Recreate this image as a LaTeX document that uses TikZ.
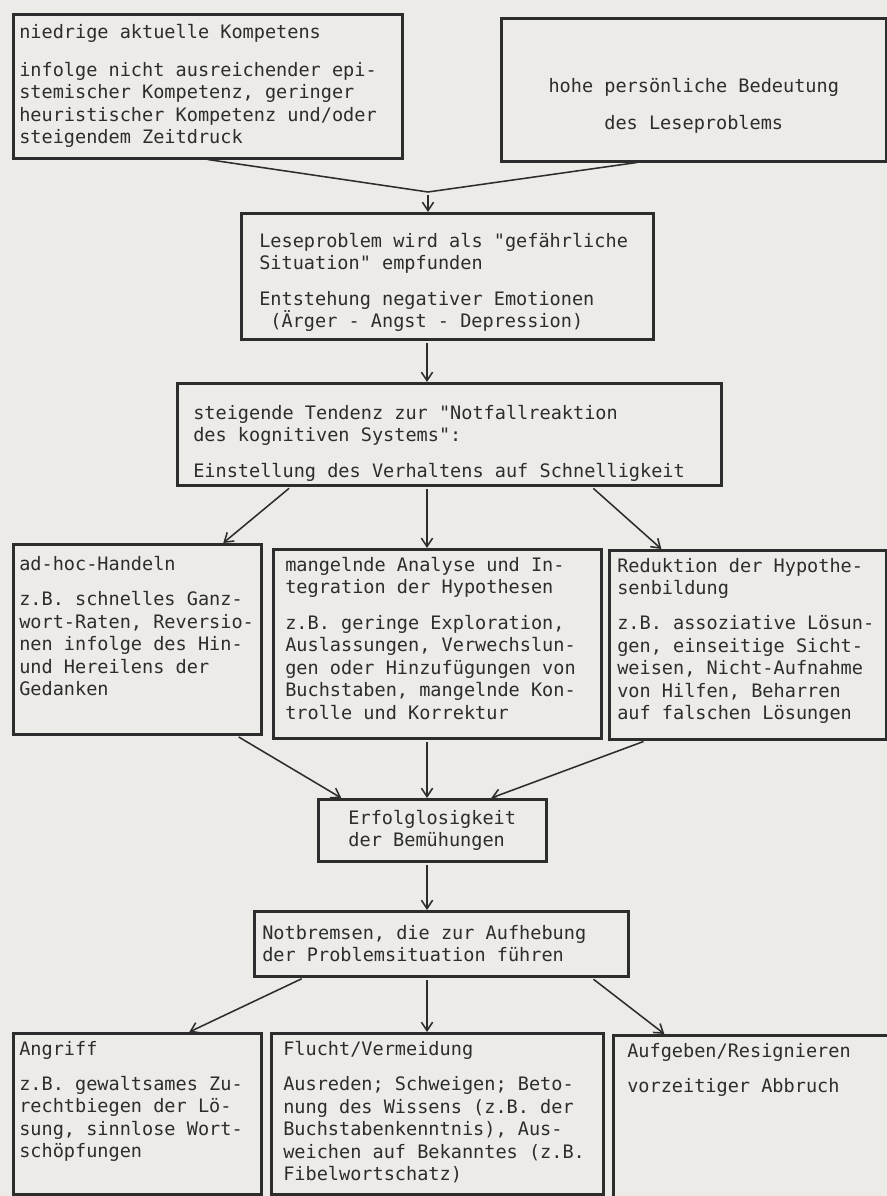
\documentclass[tikz,border=0pt]{standalone}
\usepackage{fontspec}
\setmonofont{DejaVu Sans Mono}
\usepackage{xcolor}
\usetikzlibrary{arrows.meta}
\definecolor{papier}{RGB}{236,235,231}
\definecolor{tinte}{RGB}{45,45,45}
\newcommand{\schrift}{\ttfamily\fontsize{13.2}{16}\selectfont}
\newcommand{\feld}[3]{\parbox[t][#2][t]{#1}{\raggedright #3}}

\begin{document}
\begin{tikzpicture}[
  kasten/.style={draw=tinte, line width=1.8pt, anchor=north west, inner xsep=0.15cm, inner ysep=0.2cm, font=\schrift, text=tinte},
  pfeil/.style={->, >={Straight Barb[length=6pt,width=8pt]}, line width=1.1pt, color=tinte, shorten <=2pt},
  strich/.style={line width=1.1pt, color=tinte}]
\fill[papier] (0,0) rectangle (22.175,29.9);
\useasboundingbox (0,0) rectangle (22.175,29.9);

\node[kasten] (KOMP) at (0.3,29.575) {\feld{9.425cm}{3.2cm}{\vspace*{0.05cm}niedrige aktuelle Kompetens\\[11pt]
  infolge nicht ausreichender epi-\\stemischer Kompetenz, geringer\\heuristischer Kompetenz und/oder\\steigendem Zeitdruck}};
\node[kasten] (BED) at (12.5,29.475) {\feld{9.325cm}{3.175cm}{\centering\vspace*{1.3cm}hohe persönliche Bedeutung\\[10pt]des Leseproblems}};
\coordinate (knoten) at (10.7,25.1);
\coordinate (achse) at (10.675,0);

\node[kasten, inner xsep=0.45cm] (GEF) at (6.0,24.6) {\feld{9.4cm}{2.75cm}{\vspace*{0.3cm}Leseproblem wird als "gefährliche\\Situation" empfunden\\[9pt]
  Entstehung negativer Emotionen\\\hspace*{0.6em}(Ärger - Angst - Depression)}};
\node[kasten, inner xsep=0.4cm] (NOT) at (4.4,20.35) {\feld{12.8cm}{2.15cm}{\vspace*{0.35cm}steigende Tendenz zur "Notfallreaktion\\des kognitiven Systems":\\[9pt]
  Einstellung des Verhaltens auf Schnelligkeit}};

\node[kasten] (ADHOC) at (0.3,16.325) {\feld{5.9cm}{4.35cm}{\vspace*{0.1cm}ad-hoc-Handeln\\[9pt]
  z.B. schnelles Ganz-\\wort-Raten, Reversio-\\nen infolge des Hin-\\und Hereilens der\\Gedanken}};
\node[kasten, inner xsep=0.3cm] (ANALYSE) at (6.8,16.2) {\feld{7.6cm}{4.325cm}{mangelnde Analyse und In-\\tegration der Hypothesen\\[9pt]
  z.B. geringe Exploration,\\Auslassungen, Verwechslun-\\gen oder Hinzufügungen von\\Buchstaben, mangelnde Kon-\\trolle und Korrektur}};
\node[kasten, inner xsep=0.2cm] (REDUKT) at (15.2,16.175) {\feld{6.525cm}{4.325cm}{Reduktion der Hypothe-\\senbildung\\[9pt]
  z.B. assoziative Lösun-\\gen, einseitige Sicht-\\weisen, Nicht-Aufnahme\\von Hilfen, Beharren\\auf falschen Lösungen}};

\node[kasten, minimum width=5.7cm, minimum height=1.55cm, align=left] (ERFOLG) at (7.925,9.95) {Erfolglosigkeit\\der Bemühungen};
\node[kasten, inner xsep=0.2cm] (BREMS) at (6.325,7.15) {\feld{8.95cm}{1.225cm}{\vspace*{0.15cm}Notbremsen, die zur Aufhebung\\der Problemsituation führen}};

\node[kasten] (ANGRIFF) at (0.3,4.1) {\feld{5.9cm}{3.625cm}{Angriff\\[9pt]
  z.B. gewaltsames Zu-\\rechtbiegen der Lö-\\sung, sinnlose Wort-\\schöpfungen}};
\node[kasten, inner xsep=0.3cm] (FLUCHT) at (6.75,4.1) {\feld{7.7cm}{3.625cm}{Flucht/Vermeidung\\[9pt]
  Ausreden; Schweigen; Beto-\\nung des Wissens (z.B. der\\Buchstabenkenntnis), Aus-\\weichen auf Bekanntes (z.B.\\Fibelwortschatz)}};
\node[kasten, inner xsep=0.35cm] (AUFGEB) at (15.3,4.05) {\feld{6.175cm}{3.65cm}{Aufgeben/Resignieren\\[9pt]
  vorzeitiger Abbruch}};

\draw[strich] (KOMP.south) -- (knoten) -- ([xshift=-1.425cm]BED.south);
\draw[pfeil] (knoten) -- (knoten |- GEF.north);
\draw[pfeil] (GEF.south -| achse) -- (NOT.north -| achse);
\draw[pfeil] ([xshift=-3.95cm]NOT.south) -- ([xshift=2.15cm]ADHOC.north);
\draw[pfeil] (NOT.south -| achse) -- (ANALYSE.north -| achse);
\draw[pfeil] ([xshift=3.55cm]NOT.south) -- ([xshift=-2.16cm]REDUKT.north);
\draw[pfeil] ([xshift=2.475cm]ADHOC.south) -- ([xshift=-2.275cm]ERFOLG.north);
\draw[pfeil] (ANALYSE.south -| achse) -- (ERFOLG.north -| achse);
\draw[pfeil] ([xshift=-2.54cm]REDUKT.south) -- ([xshift=1.475cm]ERFOLG.north);
\draw[pfeil] (ERFOLG.south -| achse) -- (BREMS.north -| achse);
\draw[pfeil] ([xshift=-3.425cm]BREMS.south) -- ([xshift=1.3cm]ANGRIFF.north);
\draw[pfeil] (BREMS.south -| achse) -- (FLUCHT.north -| achse);
\draw[pfeil] ([xshift=3.75cm]BREMS.south) -- ([xshift=-2.16cm]AUFGEB.north);
\end{tikzpicture}
\end{document}
